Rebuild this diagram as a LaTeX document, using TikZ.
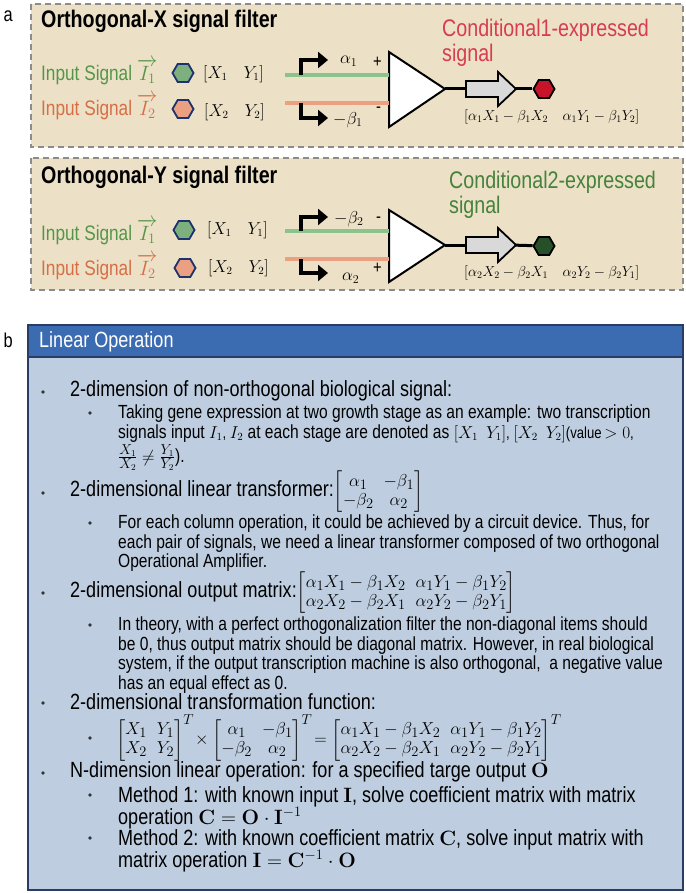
\documentclass[tikz,border=0pt]{standalone}
\usepackage{amsmath}
\usepackage[no-math]{fontspec}
\setmainfont{Liberation Sans}[FakeStretch=0.82]
\usetikzlibrary{shapes.geometric,arrows.meta}
\definecolor{beige}{RGB}{236,225,198}
\definecolor{dgray}{RGB}{140,140,140}
\definecolor{igreen}{RGB}{84,150,72}
\definecolor{iorange}{RGB}{214,110,70}
\definecolor{lgreen}{RGB}{140,195,140}
\definecolor{lorange}{RGB}{236,160,130}
\definecolor{hred}{RGB}{200,20,40}
\definecolor{hdgreen}{RGB}{40,80,40}
\definecolor{c1red}{RGB}{215,60,80}
\definecolor{c2green}{RGB}{70,130,60}
\definecolor{hblue}{RGB}{59,108,177}
\definecolor{bodyblue}{RGB}{190,206,224}
\definecolor{navy}{RGB}{40,60,100}
\definecolor{hexblue}{RGB}{30,50,110}
\tikzset{
  ltxt/.style={anchor=west,inner sep=0pt,font=\fontsize{18}{19}\selectfont},
  itxt/.style={anchor=west,inner sep=0pt,font=\fontsize{21}{21}\selectfont},
  mtxt/.style={anchor=west,inner sep=0pt,font=\fontsize{22}{23}\selectfont},
  stxt/.style={anchor=north west,inner sep=0pt,align=left,font=\fontsize{19}{19.4}\selectfont},
  hexa/.style={regular polygon,regular polygon sides=6,minimum size=21pt,inner sep=0pt,draw=hexblue,line width=1.8pt},
  ohex/.style={regular polygon,regular polygon sides=6,minimum size=21pt,inner sep=0pt,draw=black,line width=1.8pt},
  frame/.style={draw=dgray,dashed,dash pattern=on 6pt off 4pt,line width=1.5pt,fill=beige},
  sig/.style={line width=4pt},
  prom/.style={line width=4.5pt,-{Triangle[length=10pt,width=16pt]}},
  ampst/.style={draw,line width=2pt,fill=white,line join=miter},
  bigarr/.style={line width=1.8pt,fill=black!15,line join=miter},
  dot/.style={circle,fill=black!80,inner sep=1.3pt},
}
\begin{document}
\begin{tikzpicture}[x=1pt,y=-1pt]
\useasboundingbox (0,0) rectangle (685,893);
% panel a
\node[anchor=west,font=\fontsize{20}{20}\selectfont] (la) at (0,16) {a};
\draw[frame] (31,4) rectangle (683,147);
\draw[frame] (31,158) rectangle (683,290);
% ---------- filter X
\node[anchor=west,inner sep=0pt,font=\fontsize{24}{24}\selectfont\bfseries] (t1) at (41,21) {Orthogonal-X signal filter};
\node[anchor=west,inner sep=0pt,text=c1red,font=\fontsize{24}{24}\selectfont] (c1) at (442,30) {Conditional1-expressed};
\node[anchor=west,inner sep=0pt,text=c1red,font=\fontsize{24}{24}\selectfont] (c1s) at (442,55) {signal};
\node[itxt,text=igreen] (i1a) at (41,72) {Input Signal $\overrightarrow{I_1}$};
\node[itxt,text=iorange] (i2a) at (41,107) {Input Signal $\overrightarrow{I_2}$};
\node[hexa,fill=lgreen!90!black] (h1a) at (183,73) {};
\node[hexa,fill=lorange] (h2a) at (183,109) {};
\node[ltxt,font=\fontsize{16}{16}\selectfont] (m1a) at (203,74) {$[X_1\quad Y_1]$};
\node[ltxt,font=\fontsize{16}{16}\selectfont] (m2a) at (204,112) {$[X_2\quad Y_2]$};
\coordinate (ta1) at (389,52); \coordinate (ta2) at (389,127); \coordinate (apa) at (445,89);
\draw[ampst] (ta1) -- (apa) -- (ta2) -- cycle;
\coordinate (ga) at (285,75); \coordinate (oa) at (285,103);
\draw[sig,lgreen] (ga) -- (ga -| ta1);
\draw[sig,lorange] (oa) -- (oa -| ta1);
\draw[prom] (301,75) -- (301,60) -- (328,60);
\draw[prom] (301,103) -- (301,118) -- (328,118);
\node[ltxt] (a1) at (340,61) {$\alpha_1$};
\node[ltxt] (b1) at (333,120) {$-\beta_1$};
\node[ltxt] (pa) at (373,62) {+};
\node[ltxt] (ma) at (376,110) {-};
\coordinate (sa) at (466,89);
\node[ohex,fill=hred] (oha) at (544,89) {};
\draw[line width=3pt] (apa) -- (sa);
\draw[line width=3pt] (510,89) -- (oha);
\draw[bigarr] (466,81) -- (498,81) -- (498,72) -- (516,89) -- (498,106) -- (498,97) -- (466,97) -- cycle;
\node[ltxt,font=\fontsize{14.5}{14.5}\selectfont] (outa) at (464,117) {$[\alpha_1X_1-\beta_1X_2\quad \alpha_1Y_1-\beta_1Y_2]$};
% ---------- filter Y
\node[anchor=west,inner sep=0pt,font=\fontsize{24}{24}\selectfont\bfseries] (t2) at (41,177) {Orthogonal-Y signal filter};
\node[anchor=west,inner sep=0pt,text=c2green,font=\fontsize{24}{24}\selectfont] (c2) at (449,182) {Conditional2-expressed};
\node[anchor=west,inner sep=0pt,text=c2green,font=\fontsize{24}{24}\selectfont] (c2s) at (449,207) {signal};
\node[itxt,text=igreen] (i1b) at (41,232) {Input Signal $\overrightarrow{I_1}$};
\node[itxt,text=iorange] (i2b) at (41,267) {Input Signal $\overrightarrow{I_2}$};
\node[hexa,fill=lgreen!90!black] (h1b) at (184,230) {};
\node[hexa,fill=lorange] (h2b) at (185,268) {};
\node[ltxt,font=\fontsize{16}{16}\selectfont] (m1b) at (207,230) {$[X_1\quad Y_1]$};
\node[ltxt,font=\fontsize{16}{16}\selectfont] (m2b) at (208,268) {$[X_2\quad Y_2]$};
\coordinate (tb1) at (389,210); \coordinate (tb2) at (389,282); \coordinate (apb) at (445,245);
\draw[ampst] (tb1) -- (apb) -- (tb2) -- cycle;
\coordinate (gb) at (285,231); \coordinate (ob) at (285,259);
\draw[sig,lgreen] (gb) -- (gb -| tb1);
\draw[sig,lorange] (ob) -- (ob -| tb1);
\draw[prom] (301,231) -- (301,217) -- (328,217);
\draw[prom] (301,259) -- (301,273) -- (328,273);
\node[ltxt] (b2) at (334,219) {$-\beta_2$};
\node[ltxt] (a2) at (342,278) {$\alpha_2$};
\node[ltxt] (mb) at (376,220) {-};
\node[ltxt] (pb) at (373,268) {+};
\coordinate (sb) at (466,245);
\node[ohex,fill=hdgreen] (ohb) at (544,246) {};
\draw[line width=3pt] (apb) -- (sb);
\draw[line width=3pt] (510,245) -- (ohb);
\draw[bigarr] (466,237) -- (498,237) -- (498,228) -- (516,245) -- (498,262) -- (498,253) -- (466,253) -- cycle;
\node[ltxt,font=\fontsize{14.5}{14.5}\selectfont] (outb) at (464,273) {$[\alpha_2X_2-\beta_2X_1\quad \alpha_2Y_2-\beta_2Y_1]$};
% ---------- panel b
\node[anchor=west,font=\fontsize{20}{20}\selectfont] (lb) at (0,340) {b};
\draw[navy,line width=1.5pt,fill=bodyblue] (28,325) rectangle (683,890);
\draw[navy,line width=1.5pt,fill=hblue] (28,325) rectangle (683,357);
\node[anchor=west,inner sep=0pt,text=white,font=\fontsize{22}{22}\selectfont] (hd) at (39,342) {Linear Operation};
% bullets
\node[dot] at (43,392) {}; \node[mtxt] (l1) at (70,391) {2-dimension of non-orthogonal biological signal:};
\node[dot] at (90,413) {};
\node[stxt] (s1) at (118,405) {Taking gene expression at two growth stage as an example: two transcription\\
signals input {\fontsize{16}{16}\selectfont$I_1$, $I_2$} at each stage are denoted as {\fontsize{16}{16}\selectfont$[X_1\enspace Y_1]$, $[X_2\enspace Y_2]$(value\,$>0$,}\\[1pt]
$\tfrac{X_1}{X_2}\neq\tfrac{Y_1}{Y_2}$).};
\node[dot] at (43,493) {}; \node[mtxt] (l2) at (70,492) {2-dimensional linear transformer:{\fontsize{19}{19}\selectfont$\begin{bmatrix}\alpha_1 & -\beta_1\\ -\beta_2 & \alpha_2\end{bmatrix}$}};
\node[dot] at (90,523) {};
\node[stxt] (s2) at (118,515) {For each column operation, it could be achieved by a circuit device. Thus, for\\
each pair of signals, we need a linear transformer composed of two orthogonal\\ Operational Amplifier.};
\node[dot] at (43,593) {}; \node[mtxt] (l3) at (70,593) {2-dimensional output matrix:{\fontsize{19}{19}\selectfont$\begin{bmatrix}\alpha_1X_1-\beta_1X_2 & \alpha_1Y_1-\beta_1Y_2\\ \alpha_2X_2-\beta_2X_1 & \alpha_2Y_2-\beta_2Y_1\end{bmatrix}$}};
\node[dot] at (90,625) {};
\node[stxt] (s3) at (118,617) {In theory, with a perfect orthogonalization filter the non-diagonal items should\\
be 0, thus output matrix should be diagonal matrix. However, in real biological\\
system, if the output transcription machine is also orthogonal,\ \ a negative value\\ has an equal effect as 0.};
\node[dot] at (43,703) {}; \node[mtxt] (l4) at (70,702) {2-dimensional transformation function:};
\node[dot] at (90,738) {};
\node[mtxt,font=\fontsize{19}{19}\selectfont] (eq) at (116,738) {$\begin{bmatrix}X_1 & Y_1\\ X_2 & Y_2\end{bmatrix}^{T}\!\times\begin{bmatrix}\alpha_1 & -\beta_1\\ -\beta_2 & \alpha_2\end{bmatrix}^{T}\!=\begin{bmatrix}\alpha_1X_1-\beta_1X_2 & \alpha_1Y_1-\beta_1Y_2\\ \alpha_2X_2-\beta_2X_1 & \alpha_2Y_2-\beta_2Y_1\end{bmatrix}^{T}$};
\node[dot] at (43,773) {}; \node[mtxt] (l5) at (70,772) {N-dimension linear operation: for a specified targe output $\mathbf{O}$};
\node[dot] at (90,795) {};
\node[mtxt,align=left,anchor=north west,font=\fontsize{22}{22}\selectfont] (s5) at (118,786) {Method 1: with known input $\mathbf{I}$, solve coefficient matrix with matrix\\ operation $\mathbf{C}=\mathbf{O}\cdot\mathbf{I}^{-1}$};
\node[dot] at (90,838) {};
\node[mtxt,align=left,anchor=north west,font=\fontsize{22}{22}\selectfont] (s6) at (118,829) {Method 2: with known coefficient matrix $\mathbf{C}$, solve input matrix with\\ matrix operation $\mathbf{I}=\mathbf{C}^{-1}\cdot\mathbf{O}$};
\end{tikzpicture}
\end{document}
